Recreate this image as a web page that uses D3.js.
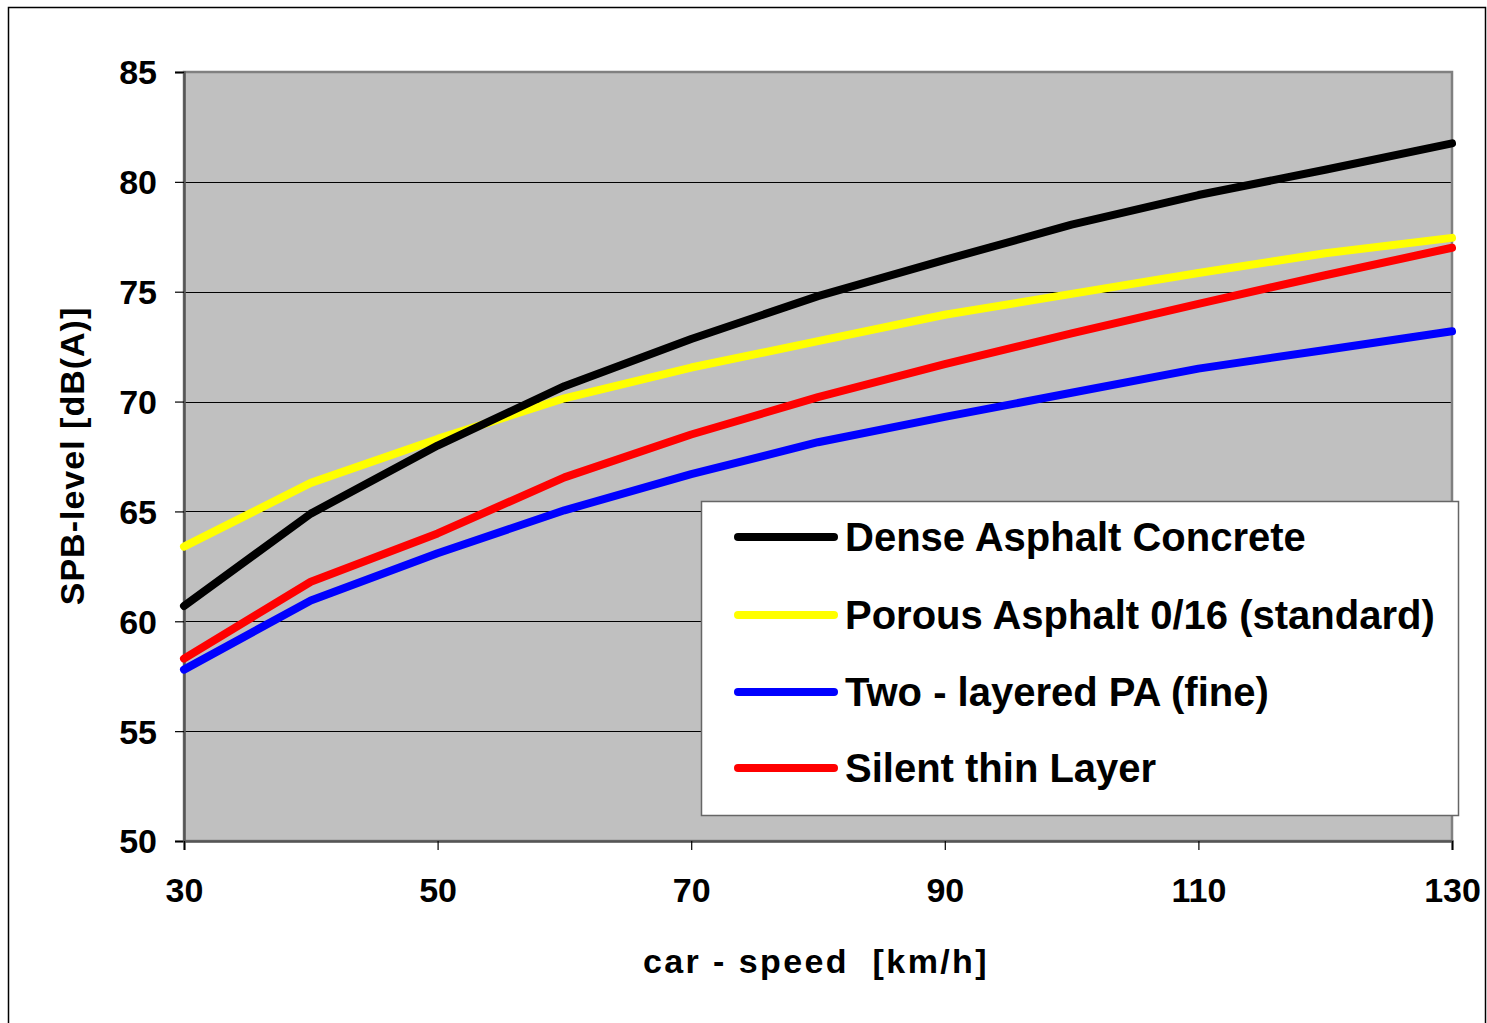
<!DOCTYPE html>
<html>
<head>
<meta charset="utf-8">
<title>SPB-level vs car speed</title>
<script src="https://cdn.jsdelivr.net/npm/d3@7"></script>
<style>
  body { margin: 0; background: #fff; }
  svg text { font-family: "Liberation Sans", Arial, sans-serif; font-weight: bold; fill: #000; }
</style>
</head>
<body>
<div id="chart"></div>
<script>
// data
var speeds = [30, 40, 50, 60, 70, 80, 90, 100, 110, 120, 130];
var dense   = [60.7, 64.9, 68.0, 70.7, 72.85, 74.8, 76.45, 78.05, 79.4, 80.55, 81.75];
var porous  = [63.4, 66.3, 68.3, 70.15, 71.55, 72.75, 73.95, 74.9, 75.85, 76.75, 77.45];
var twoLay  = [57.8, 60.95, 63.1, 65.05, 66.7, 68.15, 69.3, 70.4, 71.5, 72.35, 73.2];
var silent  = [58.3, 61.8, 64.0, 66.55, 68.5, 70.2, 71.7, 73.1, 74.45, 75.75, 77.0];
var seriesNames = ["Dense Asphalt Concrete", "Porous Asphalt 0/16 (standard)", "Two - layered PA (fine)", "Silent thin Layer"];
var seriesColors = ["#000000", "#ffff00", "#0000ff", "#ff0000"];
var xTicks = [30, 50, 70, 90, 110, 130];
var yTicks = [50, 55, 60, 65, 70, 75, 80, 85];

(function(){
  var series = [dense, porous, twoLay, silent];
  // draw order: yellow, black, blue, red on top like the original
  var drawOrder = [1, 0, 2, 3];

  var W = 1487, H = 1023;
  var pl = 184, pt = 72, pr = 1452, pb = 841;

  var svg = d3.select("#chart").append("svg")
      .attr("width", W).attr("height", H);

  // outer frame
  svg.append("rect")
      .attr("x", 8.5).attr("y", 7.5)
      .attr("width", 1477).attr("height", 1040)
      .attr("fill", "none").attr("stroke", "#000").attr("stroke-width", 1.5);

  var x = d3.scaleLinear().domain([30, 130]).range([pl, pr]);
  var y = d3.scaleLinear().domain([50, 85]).range([pb, pt]);

  // plot background
  svg.append("rect")
      .attr("x", pl).attr("y", pt)
      .attr("width", pr - pl).attr("height", pb - pt)
      .attr("fill", "#c0c0c0");

  // grid lines
  svg.append("g").selectAll("line")
      .data(yTicks.slice(1, -1))
      .enter().append("line")
      .attr("x1", pl).attr("x2", pr)
      .attr("y1", function(d){ return Math.round(y(d)) + 0.5; })
      .attr("y2", function(d){ return Math.round(y(d)) + 0.5; })
      .attr("stroke", "#000").attr("stroke-width", 1);

  // plot border (grey)
  svg.append("rect")
      .attr("x", pl).attr("y", pt)
      .attr("width", pr - pl).attr("height", pb - pt)
      .attr("fill", "none").attr("stroke", "#808080").attr("stroke-width", 2.5);

  // axes
  var yAxis = d3.axisLeft(y).tickValues(yTicks).tickSize(9).tickPadding(18);
  var gy = svg.append("g").attr("transform", "translate(" + pl + ",0)").call(yAxis);
  gy.select(".domain").attr("stroke", "#555").attr("stroke-width", 2.5);
  gy.selectAll(".tick line").attr("stroke", "#000").attr("stroke-width", 1.2);
  gy.selectAll(".tick text").style("font-size", "34px").attr("dy", "0.35em");

  var xAxis = d3.axisBottom(x).tickValues(xTicks).tickSize(9).tickPadding(28);
  var gx = svg.append("g").attr("transform", "translate(0," + pb + ")").call(xAxis);
  gx.select(".domain").attr("stroke", "#555").attr("stroke-width", 2.5);
  gx.selectAll(".tick line").attr("stroke", "#000").attr("stroke-width", 1.2);
  gx.selectAll(".tick text").style("font-size", "34px");

  // lines
  var line = d3.line()
      .x(function(d, i){ return x(speeds[i]); })
      .y(function(d){ return y(d); });

  svg.append("g").selectAll("path")
      .data(drawOrder)
      .enter().append("path")
      .attr("d", function(k){ return line(series[k]); })
      .attr("fill", "none")
      .attr("stroke", function(k){ return seriesColors[k]; })
      .attr("stroke-width", 8)
      .attr("stroke-linejoin", "round")
      .attr("stroke-linecap", "round");

  // legend
  var legend = svg.append("g");
  legend.append("rect")
      .attr("x", 701.5).attr("y", 501.5)
      .attr("width", 757).attr("height", 314)
      .attr("fill", "#fff").attr("stroke", "#666").attr("stroke-width", 1.5);

  var rowY = [537, 615, 692, 768];
  var items = legend.selectAll("g.item")
      .data(seriesNames)
      .enter().append("g").attr("class", "item");
  items.append("line")
      .attr("x1", 738).attr("x2", 834)
      .attr("y1", function(d, i){ return rowY[i]; })
      .attr("y2", function(d, i){ return rowY[i]; })
      .attr("stroke", function(d, i){ return seriesColors[i]; })
      .attr("stroke-width", 8)
      .attr("stroke-linecap", "round");
  items.append("text")
      .attr("x", 845)
      .attr("y", function(d, i){ return rowY[i] + 14; })
      .style("font-size", "40px")
      .text(function(d){ return d; });

  // axis titles
  svg.append("text")
      .attr("x", 816).attr("y", 973)
      .attr("text-anchor", "middle")
      .style("font-size", "34px")
      .style("letter-spacing", "2.4px")
      .style("white-space", "pre")
      .text("car - speed  [km/h]");

  svg.append("text")
      .attr("transform", "translate(84,456) rotate(-90)")
      .attr("text-anchor", "middle")
      .style("font-size", "34px")
      .style("letter-spacing", "1px")
      .text("SPB-level [dB(A)]");
})();
</script>
</body>
</html>
